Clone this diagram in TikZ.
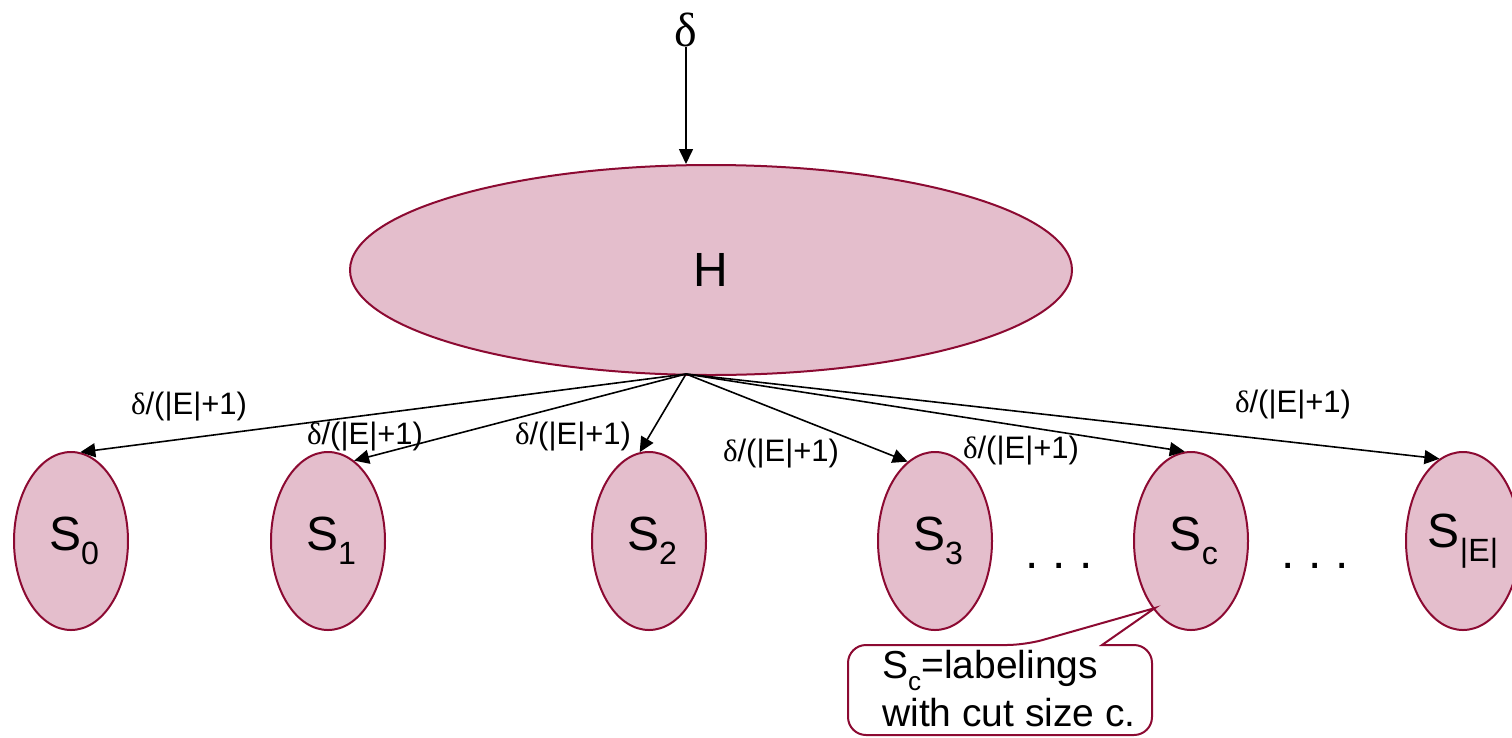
\documentclass[tikz,border=0pt]{standalone}
\usepackage{fontspec}
\setmainfont{Liberation Sans}
\newfontfamily\serifd{Liberation Serif}
\usetikzlibrary{shapes.geometric,arrows.meta}
\definecolor{rim}{RGB}{140,10,50}
\definecolor{pinkfill}{RGB}{228,190,204}
\newcommand{\lsub}[1]{\raisebox{-0.29em}{\fontsize{0.67em}{0.67em}\selectfont #1}}
\tikzset{
  sell/.style={ellipse, draw=rim, line width=2pt, fill=pinkfill, minimum width=114pt, minimum height=178pt, inner sep=0pt, font=\fontsize{48pt}{50pt}\selectfont},
  arr/.style={line width=1.6pt, -{Triangle[length=15pt,width=14pt]}},
  lbl/.style={font=\fontsize{31pt}{33pt}\selectfont, inner sep=0pt},
  dots/.style={font=\fontsize{48pt}{50pt}\selectfont, inner sep=0pt}
}
\begin{document}
\begin{tikzpicture}[x=1pt,y=-1pt]
\useasboundingbox (0,0) rectangle (1512,737);
\node[ellipse, draw=rim, line width=2pt, fill=pinkfill, minimum width=722pt, minimum height=210pt, inner sep=0pt, font=\fontsize{48pt}{50pt}\selectfont] (H) at (711,270) {H};
\node[inner sep=0pt, font=\serifd\fontsize{48pt}{50pt}\selectfont] (d) at (686,30) {δ};
\coordinate (o) at (686,374);
\draw[arr] (d.south) -- (d.south |- H.north);

\node[sell] (S0) at (71,541) {\hspace*{6pt}S\lsub{0}};
\node[sell] (S1) at (328,541) {\hspace*{6pt}S\lsub{1}};
\node[sell] (S2) at (649,541) {\hspace*{6pt}S\lsub{2}};
\node[sell] (S3) at (935,541) {\hspace*{6pt}S\lsub{3}};
\node[sell] (Sc) at (1191,541) {\hspace*{6pt}S\lsub{c}};
\node[sell] (SE) at (1463,541) {S\lsub{|E|}};

\node[dots] (dt1) at (1059,566) {.\hspace{14pt}.\hspace{14pt}.};
\node[dots] (dt2) at (1315,566) {.\hspace{14pt}.\hspace{14pt}.};

\draw[arr] (o) -- (S0.84);
\draw[arr] (o) -- (S1.72);
\draw[arr] (o) -- (S2.96);
\draw[arr] (o) -- (S3.109);
\draw[arr] (o) -- (Sc.94);
\draw[arr] (o) -- (SE.106);

\node[lbl] (l0) at (189,407) {{\serifd δ}/(|E|+1)};
\node[lbl] (l1) at (365,437) {{\serifd δ}/(|E|+1)};
\node[lbl] (l2) at (573,437) {{\serifd δ}/(|E|+1)};
\node[lbl] (l3) at (781,454) {{\serifd δ}/(|E|+1)};
\node[lbl] (l4) at (1021,451) {{\serifd δ}/(|E|+1)};
\node[lbl] (l5) at (1293,405) {{\serifd δ}/(|E|+1)};

\coordinate (tip) at (1155,608);
\draw[draw=rim, line width=2pt, fill=white, rounded corners=18pt]
  (1000,735) -- (848,735) -- (848,645) -- (1025,645) [sharp corners] -- (tip) -- (1102,645) [rounded corners=18pt] -- (1152,645) -- (1152,735) -- cycle;
\node[font=\fontsize{39pt}{48pt}\selectfont, align=left, inner sep=0pt, anchor=west] (call) at (882,689) {S\lsub{c}=labelings\\with cut size c.};
\end{tikzpicture}
\end{document}
